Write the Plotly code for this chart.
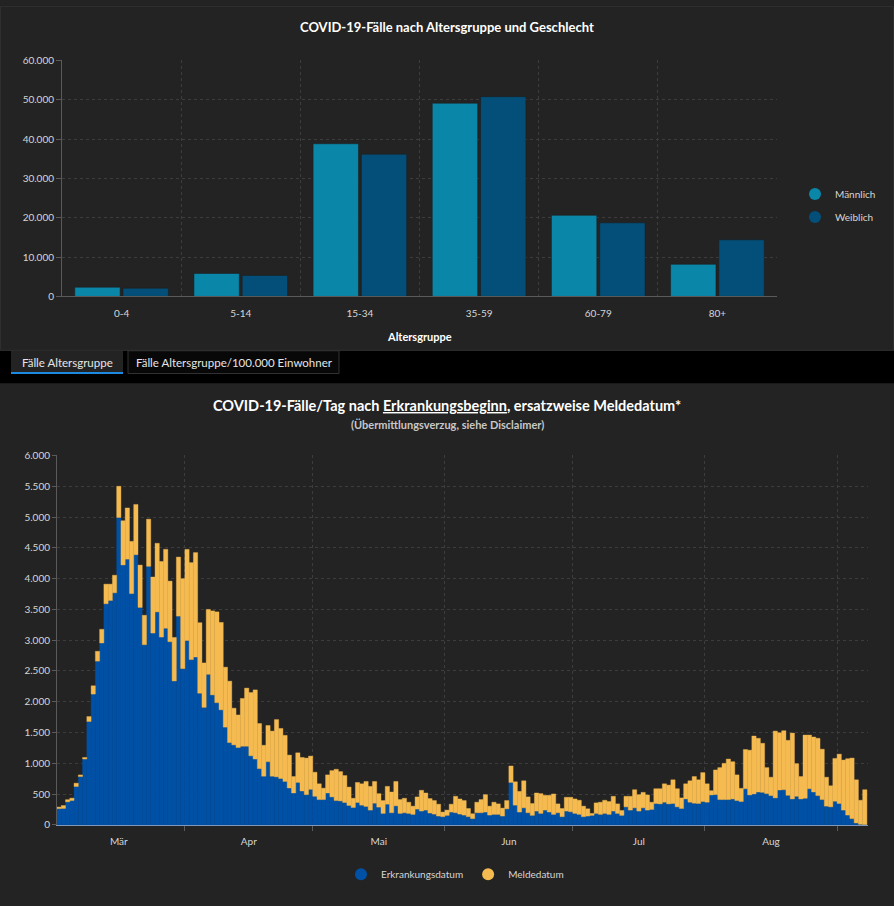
import pandas as pd
import plotly.graph_objects as go

# --- Daten oben: Fälle nach Altersgruppe und Geschlecht
age_groups = ["0-4", "5-14", "15-34", "35-59", "60-79", "80+"]
maennlich = [2340, 5830, 38800, 49100, 20600, 8150]
weiblich = [2090, 5330, 36150, 50770, 18700, 14380]

# --- Daten unten: Fälle/Tag (ab 02.03.2020)
start_day = "2020-03-02"
erkrankung = [
    265, 268, 375, 396, 624, 786, 1070, 1680, 2125, 2660,
    2955, 3592, 3645, 3770, 4993, 4222, 4316, 3757, 4388, 3532,
    2927, 4200, 3116, 3460, 3051, 3194, 2975, 2338, 3391, 2538,
    2995, 2685, 2727, 2139, 1909, 2446, 2112, 1985, 1869, 1588,
    1337, 1300, 1257, 1278, 1278, 1123, 1070, 914, 791, 1027,
    791, 781, 754, 706, 600, 519, 690, 551, 492, 578,
    465, 412, 412, 519, 455, 396, 390, 364, 316, 283,
    364, 321, 300, 241, 353, 289, 187, 337, 198, 310,
    187, 198, 187, 171, 257, 225, 241, 193, 176, 144,
    134, 155, 209, 198, 176, 160, 134, 102, 198, 198,
    209, 160, 171, 171, 144, 262, 690, 321, 209, 278,
    198, 155, 225, 187, 241, 209, 171, 198, 134, 225,
    214, 187, 171, 134, 144, 155, 187, 171, 187, 171,
    225, 187, 155, 294, 241, 278, 225, 278, 241, 251,
    348, 342, 369, 342, 348, 294, 267, 422, 369, 353,
    348, 380, 369, 487, 492, 412, 412, 412, 422, 396,
    380, 588, 487, 503, 535, 529, 508, 476, 439, 567,
    572, 481, 422, 465, 422, 433, 588, 535, 476, 412,
    305, 294, 385, 348, 241, 160, 102, 32, 10, 5,
]
melde = [
    25, 47, 35, 39, 54, 26, 26, 80, 135, 160,
    222, 318, 265, 285, 507, 718, 832, 848, 817, 688,
    478, 765, 910, 1114, 1228, 1282, 985, 707, 959, 1462,
    1480, 1575, 1696, 1145, 722, 1054, 1364, 1475, 1420, 974,
    998, 596, 529, 776, 944, 1027, 1123, 733, 503, 588,
    733, 930, 813, 749, 534, 267, 481, 545, 594, 540,
    391, 256, 185, 294, 427, 508, 476, 438, 299, 150,
    326, 347, 406, 385, 353, 219, 209, 289, 337, 396,
    225, 235, 182, 134, 198, 337, 278, 235, 220, 193,
    75, 86, 128, 267, 246, 236, 133, 80, 171, 214,
    283, 145, 198, 171, 129, 134, 267, 380, 336, 439,
    257, 193, 294, 321, 240, 272, 332, 144, 133, 224,
    235, 235, 230, 171, 118, 32, 171, 198, 214, 209,
    240, 155, 80, 171, 224, 294, 267, 251, 246, 118,
    240, 246, 299, 305, 385, 294, 172, 246, 348, 433,
    385, 470, 299, 69, 401, 519, 588, 658, 605, 417,
    214, 637, 727, 941, 872, 797, 423, 299, 1085, 930,
    958, 893, 1070, 530, 364, 1027, 872, 893, 931, 818,
    470, 342, 695, 802, 813, 915, 984, 701, 391, 567,
]
month_labels = ["Mär", "Apr", "Mai", "Jun", "Jul", "Aug"]

days = pd.date_range(start_day, periods=len(erkrankung), freq="D")
month_starts = pd.date_range("2020-03-01", "2020-09-01", freq="MS")
month_mids = [a + (b - a) / 2 for a, b in zip(month_starts[:-1], month_starts[1:])]

H = 906
W = 894
def py(v):
    return 1 - v / H
def px(v):
    return v / W

BG = "#232323"
GRID = "#3d3d3d"
AXIS = "#5a5a5a"
TXT = "#d6d6d6"
FONT = "Lato"
DAY_MS = 86400000
C_M, C_W = "#0a86a9", "#034f79"
C_ERK, C_MEL = "#0051a6", "#f5bb50"

fig = go.Figure()

# oben: gruppierte Balken
fig.add_trace(go.Bar(x=age_groups, y=maennlich, name="Männlich", marker_color=C_M,
                     marker_line=dict(width=0.5, color="#1c1c1c"), showlegend=False,
                     xaxis="x", yaxis="y"))
fig.add_trace(go.Bar(x=age_groups, y=weiblich, name="Weiblich", marker_color=C_W,
                     marker_line=dict(width=0.5, color="#1c1c1c"), showlegend=False,
                     xaxis="x", yaxis="y"))
for nm, col in [("Männlich", C_M), ("Weiblich", C_W)]:
    fig.add_trace(go.Scatter(x=[None], y=[None], mode="markers", name=nm, legendgroup=nm,
                             marker=dict(symbol="circle", size=15, color=col),
                             legend="legend", xaxis="x", yaxis="y"))

# unten: gestapelte Tagesbalken
fig.add_trace(go.Bar(x=days, y=erkrankung, name="Erkrankungsdatum", marker_color=C_ERK,
                     marker_line=dict(width=0.4, color=C_ERK),
                     width=DAY_MS, offset=0, showlegend=False, xaxis="x2", yaxis="y2"))
fig.add_trace(go.Bar(x=days, y=melde, base=erkrankung, name="Meldedatum", marker_color=C_MEL,
                     marker_line=dict(width=0.4, color=C_MEL),
                     width=DAY_MS, offset=0, showlegend=False, xaxis="x2", yaxis="y2"))
for nm, col in [("Erkrankungsdatum", C_ERK), ("Meldedatum", C_MEL)]:
    fig.add_trace(go.Scatter(x=[None], y=[None], mode="markers", name=nm,
                             marker=dict(symbol="circle", size=15, color=col),
                             legend="legend2", xaxis="x2", yaxis="y2"))

shapes = [
    dict(type="rect", xref="paper", yref="paper", x0=0, x1=1, y0=py(382), y1=py(349),
         fillcolor="#000000", line_width=0, layer="below"),
    dict(type="rect", xref="paper", yref="paper", x0=px(11), x1=px(123), y0=py(372), y1=py(349),
         fillcolor=BG, line_width=0, layer="below"),
    dict(type="rect", xref="paper", yref="paper", x0=px(11), x1=px(123), y0=py(372.5), y1=py(370.5),
         fillcolor="#1d8ae0", line_width=0),
    dict(type="rect", xref="paper", yref="paper", x0=px(128), x1=px(339), y0=py(372), y1=py(349),
         fillcolor="#080808", line=dict(color="#333333", width=1), layer="below"),
    dict(type="rect", xref="paper", yref="paper", x0=px(0.5), x1=px(893.5), y0=py(348.5), y1=py(0.5),
         fillcolor="rgba(0,0,0,0)", line=dict(color="#2f2f2f", width=1), layer="below"),
]

annotations = [
    dict(text="<b>COVID-19-Fälle nach Altersgruppe und Geschlecht</b>", x=0.5, y=py(21),
         font=dict(size=13, color="#ffffff")),
    dict(text="<b>Altersgruppe</b>", x=px(419), y=py(335),
         font=dict(size=11, color="#ffffff")),
    dict(text="Fälle Altersgruppe", x=px(67), y=py(361),
         font=dict(size=11.5, color="#e6e6e6")),
    dict(text="Fälle Altersgruppe/100.000 Einwohner", x=px(234), y=py(361),
         font=dict(size=11.5, color="#e6e6e6")),
    dict(text="<b>COVID-19-Fälle/Tag nach <u>Erkrankungsbeginn</u>, ersatzweise Meldedatum*</b>",
         x=0.5, y=py(404), font=dict(size=14.5, color="#ffffff")),
    dict(text="<b>(Übermittlungsverzug, siehe Disclaimer)</b>", x=0.5, y=py(424),
         font=dict(size=11, color="#c8c8c8")),
]
for a in annotations:
    a.update(xref="paper", yref="paper", xanchor="center", yanchor="middle", showarrow=False)

fig.update_layout(
    width=W, height=H, autosize=False,
    margin=dict(l=0, r=0, t=0, b=0),
    paper_bgcolor=BG, plot_bgcolor=BG,
    font=dict(family=FONT, size=10, color=TXT),
    separators=",.",
    barmode="group", bargap=0.19, bargroupgap=0.06,
    shapes=shapes, annotations=annotations,
    xaxis=dict(domain=[px(62), px(777)], anchor="y", type="category",
               categoryorder="array", categoryarray=age_groups, range=[-0.5, 5.5],
               tickson="boundaries", ticks="", showgrid=True, gridcolor=GRID,
               griddash="3px,3px", showline=True, linecolor=AXIS, zeroline=False,
               ticklabelstandoff=8, tickfont=dict(size=10, color=TXT)),
    yaxis=dict(domain=[py(294), py(55)], anchor="x", range=[0, 60000], dtick=10000,
               tickformat=",d", separatethousands=True, showgrid=True, gridcolor=GRID,
               griddash="3px,3px", showline=True, linecolor=AXIS, ticks="outside",
               ticklen=5, tickcolor=AXIS, zeroline=False, tickfont=dict(size=10, color=TXT)),
    xaxis2=dict(domain=[px(57), px(868)], anchor="y2", type="date",
                range=[start_day, "2020-09-08 06:00"],
                tickmode="array", tickvals=month_mids, ticktext=month_labels, ticks="",
                showgrid=False, showline=True, linecolor="#7f97bd", zeroline=False,
                ticklabelstandoff=7, tickfont=dict(size=10, color=TXT),
                minor=dict(tickmode="array", tickvals=list(month_starts), ticks="outside",
                           ticklen=5, tickcolor=AXIS, showgrid=True, gridcolor=GRID,
                           griddash="3px,3px")),
    yaxis2=dict(domain=[py(829), py(455)], anchor="x2", range=[0, 6000], dtick=500,
                tickformat=",d", separatethousands=True, showgrid=True, gridcolor=GRID,
                griddash="3px,3px", showline=True, linecolor=AXIS, ticks="outside",
                ticklen=4, tickcolor=AXIS, zeroline=False, tickfont=dict(size=10, color=TXT)),
    legend=dict(x=px(795), y=py(202), xanchor="left", yanchor="middle",
                bgcolor="rgba(0,0,0,0)", font=dict(size=10, color=TXT),
                tracegroupgap=4, itemsizing="constant"),
    legend2=dict(orientation="h", x=px(455), y=py(879), xanchor="center", yanchor="middle",
                 bgcolor="rgba(0,0,0,0)", font=dict(size=10, color=TXT),
                 itemsizing="constant"),
)

fig.write_html("out.html", config={"displayModeBar": False},
               post_script="document.body.style.margin='0';document.body.style.background='#232323';")
